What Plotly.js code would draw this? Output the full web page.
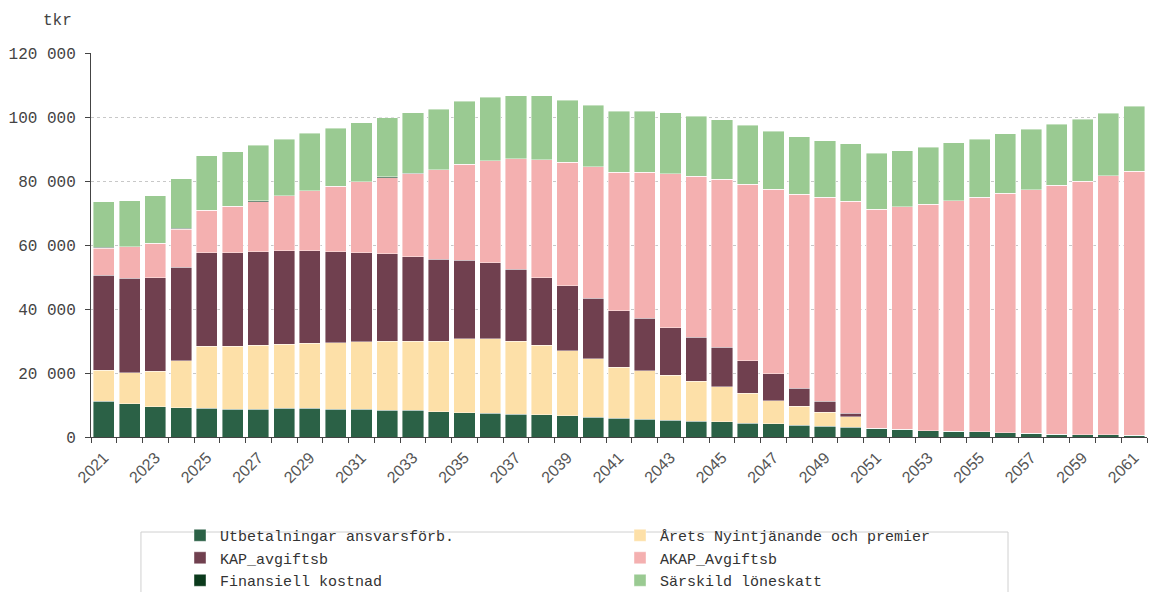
<!DOCTYPE html>
<html>
<head>
<meta charset="utf-8">
<script src="https://cdn.plot.ly/plotly-3.0.1.min.js"></script>
<style>html,body{margin:0;padding:0;background:#fff;}#chart{width:1151px;height:592px;}</style>
</head>
<body>
<div id="chart"></div>
<script>
const years = [2021,2022,2023,2024,2025,2026,2027,2028,2029,2030,2031,2032,2033,2034,2035,2036,2037,2038,2039,2040,2041,2042,2043,2044,2045,2046,2047,2048,2049,2050,2051,2052,2053,2054,2055,2056,2057,2058,2059,2060,2061];
const tickYears = [2021,2023,2025,2027,2029,2031,2033,2035,2037,2039,2041,2043,2045,2047,2049,2051,2053,2055,2057,2059,2061];

const seriesNames = ["Utbetalningar ansvarsförb.","Årets Nyintjänande och premier","KAP_avgiftsb","AKAP_Avgiftsb","Finansiell kostnad","Särskild löneskatt"];

const utbetalningar = [11100,10400,9500,9200,9000,8700,8700,9000,9000,8700,8700,8400,8400,7900,7600,7400,7100,6900,6600,6100,5800,5500,5300,5000,4800,4300,4100,3750,3400,3000,2700,2400,2000,1800,1600,1300,1100,900,700,700,500];
const aretsNyintjanande = [9700,9700,11100,14700,19400,19700,19900,20000,20300,20800,21100,21500,21500,22000,23100,23300,22800,21700,20300,18300,16000,15200,14000,12500,10900,9300,7300,5850,4400,3350,0,0,0,0,0,0,0,0,0,0,0];
const kapAvgiftsb = [29700,29500,29200,29100,29200,29200,29300,29200,28900,28400,27800,27300,26500,25700,24600,23700,22500,21200,20300,19000,17600,16400,14800,13750,12300,10300,8400,5600,3300,1150,0,0,0,0,0,0,0,0,0,0,0];
const akapAvgiftsb = [8500,9800,10800,12000,13200,14500,15600,17200,18700,20500,22200,23800,25800,27900,30000,31900,34500,36900,38600,41100,43400,45700,48100,50250,52500,55100,57600,60700,63800,66100,68400,69500,70800,72100,73300,74800,76100,77700,79300,80900,82500];
const finansiellKostnad = [300,0,0,300,0,0,400,0,0,0,0,300,300,0,0,0,0,0,0,0,0,0,0,0,0,0,0,0,0,0,0,0,0,0,0,0,0,0,0,0,0];
const sarskildLoneskatt = [14200,14500,14800,15400,17100,17000,17300,17700,18000,18100,18400,18500,18900,19000,19600,19800,19800,19900,19500,19100,19000,19000,19100,18800,18600,18500,18200,18000,17700,18100,17500,17500,17800,18000,18200,18600,19050,19200,19300,19650,20300];

const colors = ["#2b6146","#fde0a8","#70404f","#f4b0b0","#0b3a1c","#9aca92"];
const allSeries = [utbetalningar,aretsNyintjanande,kapAvgiftsb,akapAvgiftsb,finansiellKostnad,sarskildLoneskatt];

const mono = "Liberation Mono, Courier New, monospace";
const traces = allSeries.map((vals,i)=>({
  type:"bar", x:years, y:vals, name:seriesNames[i],
  marker:{color:colors[i], line:{color:"rgba(255,255,255,0.7)", width:0.6}},
  hoverinfo:"x+y+name"
}));

const layout = {
  width:1151, height:592,
  margin:{l:91, r:4, t:53, b:155, autoexpand:false},
  paper_bgcolor:"#fff", plot_bgcolor:"#fff",
  barmode:"stack", bargap:0.18,
  separators:", ",
  font:{family:mono, size:16, color:"#444"},
  xaxis:{
    range:[2020.5,2061.5], tickmode:"array", tickvals:tickYears, ticktext:tickYears.map(String),
    ticks:"", tickangle:-45, tickfont:{family:"Liberation Sans, Arial, sans-serif", size:16, color:"#555"},
    ticklabelstandoff:4,
    showline:true, linecolor:"#444", linewidth:1, showgrid:false, zeroline:false,
    minor:{tickmode:"linear", tick0:2020.5, dtick:1, ticks:"outside", ticklen:5, tickcolor:"#444", showgrid:false}
  },
  yaxis:{
    range:[0,120000], tickmode:"linear", tick0:0, dtick:20000, tickformat:",d",
    ticks:"outside", ticklen:5, tickcolor:"#444",
    showline:true, linecolor:"#444", linewidth:1,
    showgrid:true, gridcolor:"#c8c8c8", griddash:"dot", gridwidth:1, zeroline:false,
    tickfont:{family:mono, size:16, color:"#444"}, ticklabelstandoff:6
  },
  legend:{
    orientation:"h", traceorder:"normal", x:0.0843, xanchor:"left", y:-0.2136, yanchor:"top",
    entrywidth:395, entrywidthmode:"pixels", font:{family:mono, size:15, color:"#333"},
    bgcolor:"rgba(0,0,0,0)", borderwidth:0
  },
  shapes:[{type:"rect", xref:"paper", yref:"paper", x0:0.0473, x1:0.8684, y0:-0.2474, y1:-0.45, line:{color:"#d0d0d0", width:1}, fillcolor:"rgba(0,0,0,0)"}],
  annotations:[{text:"tkr", xref:"paper", yref:"paper", x:-0.0313, y:1.0833, xanchor:"center", yanchor:"middle", showarrow:false, font:{family:mono, size:16, color:"#444"}}],
  showlegend:true
};

Plotly.newPlot("chart", traces, layout, {displayModeBar:false});
</script>
</body>
</html>
